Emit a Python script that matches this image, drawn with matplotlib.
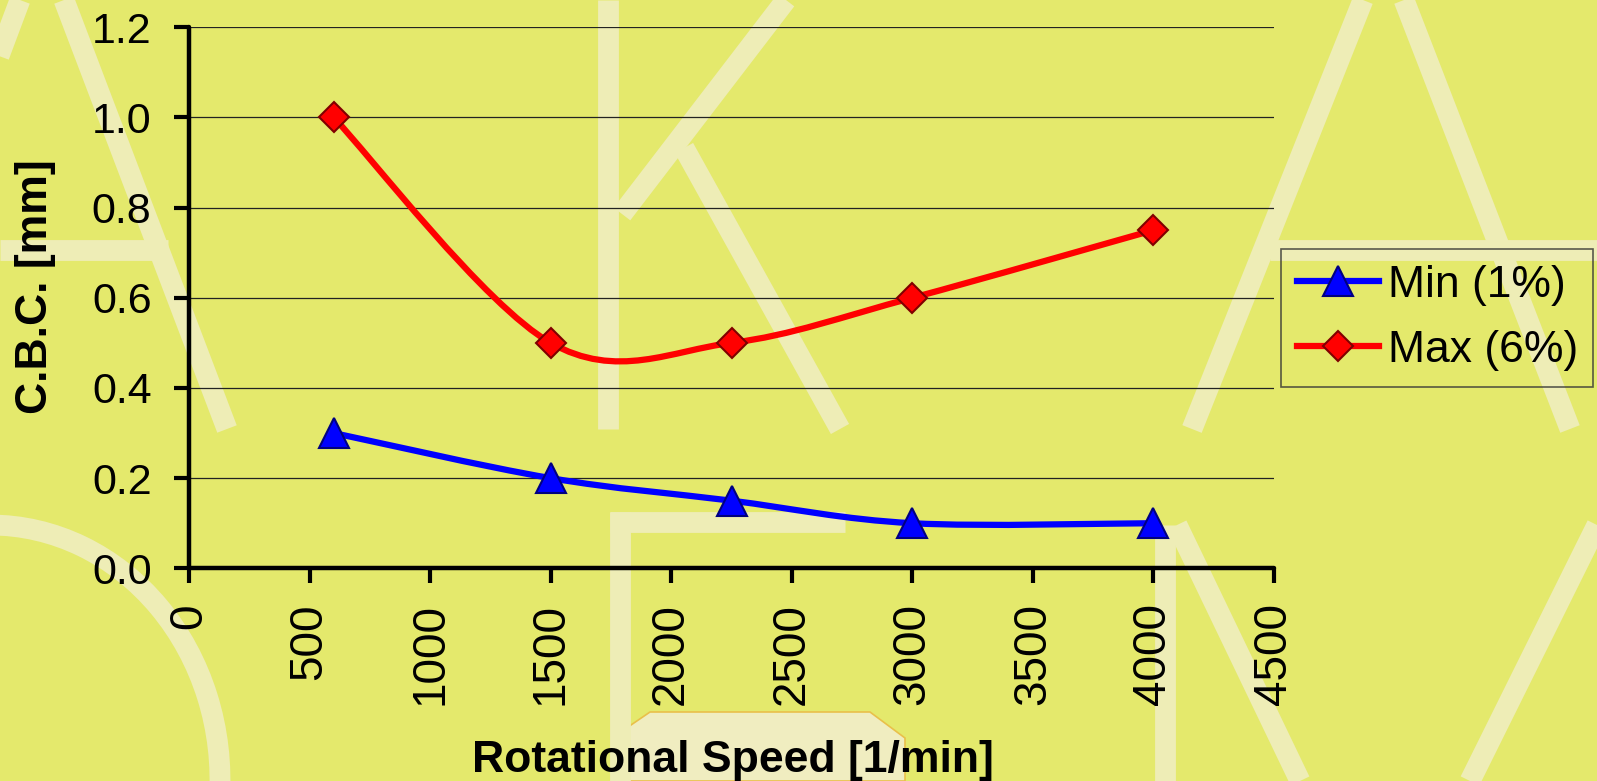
import matplotlib
matplotlib.use("Agg")
import matplotlib.pyplot as plt
from matplotlib.path import Path
from matplotlib.patches import PathPatch, Arc, Polygon
from matplotlib.lines import Line2D
import numpy as np

# data
speed = [600, 1500, 2250, 3000, 4000]
cbc_min = [0.3, 0.2, 0.15, 0.1, 0.1]
cbc_max = [1.0, 0.5, 0.5, 0.6, 0.75]
series_labels = ["Min (1%)", "Max (6%)"]
x_ticks = [0, 500, 1000, 1500, 2000, 2500, 3000, 3500, 4000, 4500]
y_ticks = [0.0, 0.2, 0.4, 0.6, 0.8, 1.0, 1.2]

BG = "#E4E96C"
WM = "#EEEDB6"

plt.rcParams["font.family"] = ["Liberation Sans", "DejaVu Sans"]


def smooth_path(xs, ys):
    # Excel style smoothed line: cubic bezier through the points
    pts = np.column_stack([xs, ys]).astype(float)
    n = len(pts)
    verts = [pts[0]]
    codes = [Path.MOVETO]
    for i in range(n - 1):
        p0 = pts[max(i - 1, 0)]
        p1 = pts[i]
        p2 = pts[i + 1]
        p3 = pts[min(i + 2, n - 1)]
        c1 = p1 + (p2 - p0) / 6.0
        c2 = p2 - (p3 - p1) / 6.0
        verts += [c1, c2, p2]
        codes += [Path.CURVE4] * 3
    return Path(verts, codes)


fig = plt.figure(figsize=(15.97, 7.81), dpi=100, facecolor=BG)

# faint watermark behind the chart (pixel coordinates)
bg = fig.add_axes([0, 0, 1, 1], zorder=-5)
bg.set_xlim(0, 1597)
bg.set_ylim(781, 0)
bg.axis("off")
wm_lines = [
    ([64, 227], [0, 429]),        # left A, right leg
    ([20, -40], [0, 160]),        # left A, left leg
    ([0, 168], [250, 250]),       # left A, bar
    ([608, 608], [0, 429]),       # K stem
    ([786, 622], [0, 214]),       # K arm
    ([684, 840], [148, 429]),     # K leg
    ([1363, 1192], [0, 429]),     # right A, left leg
    ([1404, 1570], [0, 429]),     # right A, right leg
    ([1270, 1597], [250, 250]),   # right A, bar
    ([620, 620], [512, 781]),     # bottom E stem
    ([610, 845], [522, 522]),     # bottom E bar
    ([1165, 1165], [525, 781]),   # bottom M stem
    ([1177, 1300], [525, 781]),   # bottom M diagonal
    ([1597, 1470], [525, 781]),   # bottom M diagonal 2
]
for xs, ys in wm_lines:
    bg.plot(xs, ys, color=WM, lw=15, solid_capstyle="butt")
bg.add_patch(Arc((-10, 780), 460, 510, theta1=-90, theta2=5,
                 color=WM, lw=15))
# little building picture under the x label
bg.add_patch(Polygon([(612, 781), (612, 738), (650, 712), (870, 712),
                      (905, 738), (905, 781)], closed=True,
                     facecolor="#F0EDC0", edgecolor="#E9C04A", lw=1.2))

ax = fig.add_axes([189 / 1597, 1 - 568.3 / 781, 1085 / 1597, 541 / 781])
ax.set_facecolor("none")

ax.add_patch(PathPatch(smooth_path(speed, cbc_min), fill=False,
                       edgecolor="#0000FF", lw=4.5, zorder=3))
ax.add_patch(PathPatch(smooth_path(speed, cbc_max), fill=False,
                       edgecolor="#FF0000", lw=4.5, zorder=3))
ax.plot(speed, cbc_min, ls="none", marker="^", ms=22, mfc="#0000FF",
        mec="#000080", mew=1.5, zorder=4)
ax.plot(speed, cbc_max, ls="none", marker="D", ms=15.5, mfc="#FF0000",
        mec="#800000", mew=1.5, zorder=4)

ax.set_xlim(0, 4500)
ax.set_ylim(0, 1.2)
ax.set_xticks(x_ticks)
ax.set_yticks(y_ticks)
ax.set_xticklabels([str(v) for v in x_ticks], rotation=90, fontsize=33)
ax.set_yticklabels(["%.1f" % v for v in y_ticks], fontsize=31)
ax.tick_params(axis="both", direction="out", length=11, width=3,
               colors="black")
ax.tick_params(axis="y", pad=16)
ax.tick_params(axis="x", pad=14)
for t in ax.xaxis.get_major_ticks() + ax.yaxis.get_major_ticks():
    t.tick1line.set_solid_capstyle("round")

ax.grid(axis="y", color="#222222", lw=0.9)
ax.set_axisbelow(True)
for s in ["top", "right"]:
    ax.spines[s].set_visible(False)
for s in ["left", "bottom"]:
    ax.spines[s].set_linewidth(3.2)
    ax.spines[s].set_capstyle("round")

fig.text(36 / 1597, 1 - 287 / 781, "C.B.C. [mm]", rotation=90,
         ha="center", va="center", fontsize=32, fontweight="bold")
fig.text(733 / 1597, 1 - 772 / 781, "Rotational Speed [1/min]",
         ha="center", va="baseline", fontsize=32, fontweight="bold")

handles = [
    Line2D([], [], color="#0000FF", lw=4.5, marker="^", ms=22,
           mfc="#0000FF", mec="#000080", mew=1.5),
    Line2D([], [], color="#FF0000", lw=4.5, marker="D", ms=15.5,
           mfc="#FF0000", mec="#800000", mew=1.5),
]
leg = fig.legend(handles, series_labels, loc="upper left",
                 bbox_to_anchor=(1281 / 1597, 1 - 249 / 781),
                 borderaxespad=0, fontsize=32, frameon=True,
                 fancybox=False, edgecolor="#333333", facecolor="none",
                 borderpad=0.35, handlelength=1.85, handletextpad=0.2,
                 labelspacing=0.55)
leg.get_frame().set_linewidth(1.2)

fig.savefig("out.png", dpi=100, facecolor=BG)
